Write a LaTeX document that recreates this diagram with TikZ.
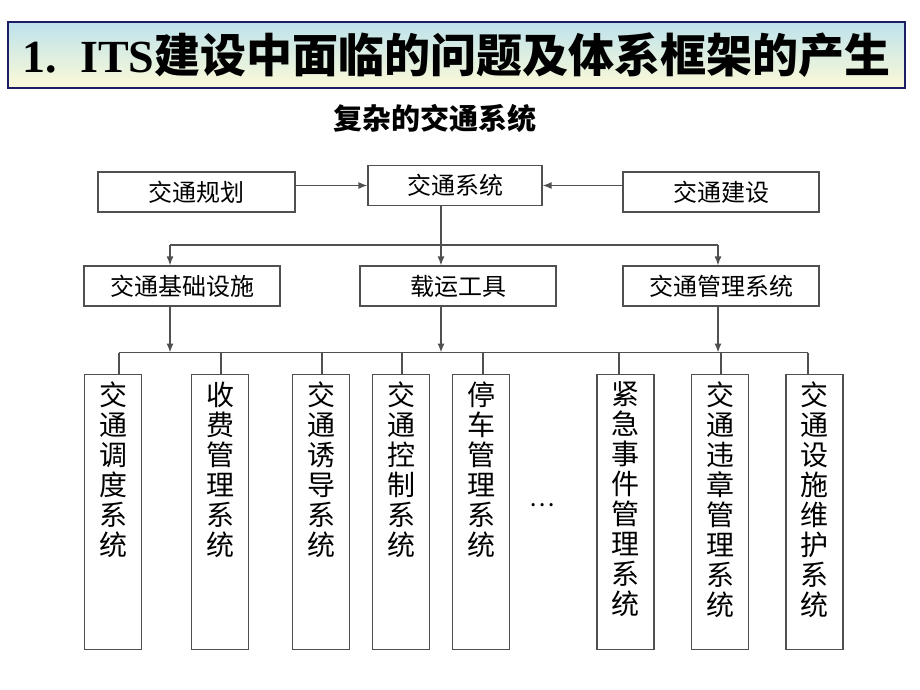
\documentclass[tikz,border=0pt]{standalone}
\usepackage{fontspec}
\setmainfont{Liberation Serif}
\newfontfamily\cjk{Noto Sans CJK SC}
\usetikzlibrary{arrows.meta}
\definecolor{boxgray}{RGB}{80,80,80}
\definecolor{navy}{RGB}{30,30,100}
\definecolor{ttop}{RGB}{190,226,236}
\definecolor{tbot}{RGB}{252,250,215}
\tikzset{
  hbox/.style={draw=boxgray, line width=1.2pt, minimum height=40, inner sep=0, font=\cjk\fontsize{24}{28}\selectfont},
  vbox/.style={draw=boxgray, line width=1.2pt, anchor=north, minimum width=57, inner xsep=0, inner ysep=7, font=\cjk\fontsize{28}{30}\selectfont},
  conn/.style={draw=boxgray, line width=1.3pt},
  arr/.style={conn, -{Latex[length=9pt,width=7pt]}}
}
\newcommand{\vtext}[1]{\parbox[c][261pt][t]{30pt}{\centering #1}}
\begin{document}
\begin{tikzpicture}[x=1pt,y=-1pt]
\useasboundingbox (0,0) rectangle (920,690);
\fill[white] (0,0) rectangle (920,690);
% title
\node[draw=navy, line width=1.5pt, top color=ttop, bottom color=tbot, minimum width=897, minimum height=66, inner sep=0] (title) at (456.5,55)
  {\bfseries\fontsize{46}{50}\selectfont 1.\ \ ITS\cjk 建设中面临的问题及体系框架的产生};
\node (sub) at (435,118) {\cjk\bfseries\fontsize{29}{32}\selectfont 复杂的交通系统};
% top row
\node[hbox, minimum width=197] (plan) at (196.5,192) {交通规划};
\node[hbox, minimum width=174] (sys) at (455,185.5) {交通系统};
\node[hbox, minimum width=196] (build) at (721,192) {交通建设};
% middle row
\node[hbox, minimum width=196] (infra) at (182,286) {交通基础设施};
\node[hbox, minimum width=196] (veh) at (458,286) {载运工具};
\node[hbox, minimum width=196] (mgmt) at (721,286) {交通管理系统};
% vertical boxes
\node[vbox] (v1) at (113,374) {\vtext{交\\通\\调\\度\\系\\统}};
\node[vbox] (v2) at (220,374) {\vtext{收\\费\\管\\理\\系\\统}};
\node[vbox] (v3) at (321,374) {\vtext{交\\通\\诱\\导\\系\\统}};
\node[vbox] (v4) at (401,374) {\vtext{交\\通\\控\\制\\系\\统}};
\node[vbox] (v5) at (481,374) {\vtext{停\\车\\管\\理\\系\\统}};
\node[vbox] (v6) at (625.5,374) {\vtext{紧\\急\\事\\件\\管\\理\\系\\统}};
\node[vbox] (v7) at (720,374) {\vtext{交\\通\\违\\章\\管\\理\\系\\统}};
\node[vbox] (v8) at (814.5,374) {\vtext{交\\通\\设\\施\\维\\护\\系\\统}};
\node (dots) at (542,505) {\cjk\fontsize{24}{28}\selectfont …};
% connectors top
\draw[arr] (sys.west -| plan.east) -- (sys.west);
\draw[arr] (sys.east -| build.west) -- (sys.east);
\coordinate (tA) at (170,245);
\coordinate (tB) at (441,245);
\coordinate (tC) at (718,245);
\draw[arr] (sys.south -| tB) -- (veh.north -| tB);
\draw[conn] (tA) -- (tC);
\draw[arr] (tA) -- (infra.north -| tA);
\draw[arr] (tC) -- (mgmt.north -| tC);
% bus
\coordinate (d1) at (119,352.5);
\coordinate (d2) at (221,352.5);
\coordinate (d3) at (322,352.5);
\coordinate (d4) at (402,352.5);
\coordinate (d5) at (483,352.5);
\coordinate (d6) at (619,352.5);
\coordinate (d7) at (721,352.5);
\coordinate (d8) at (808,352.5);
\draw[arr] (infra.south -| tA) -- (d1 -| tA);
\draw[arr] (veh.south -| tB) -- (d1 -| tB);
\draw[arr] (mgmt.south -| tC) -- (d1 -| tC);
\draw[conn] (d1) -- (d8);
\foreach \i in {1,...,8} {\draw[conn] (d\i) -- (v\i.north -| d\i);}
\end{tikzpicture}
\end{document}
